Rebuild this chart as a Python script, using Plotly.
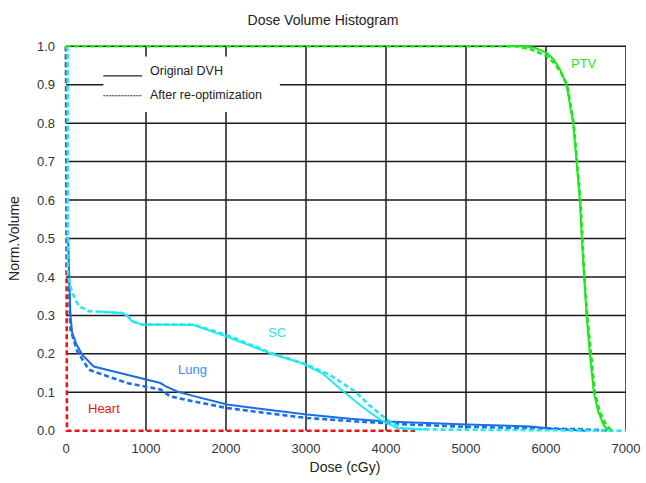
import plotly.graph_objects as go

# ---------------- data ----------------
ptv_orig_dose = [5500, 5712, 5850, 6008, 6100, 6174, 6257, 6340, 6382, 6423, 6448, 6473, 6507, 6548, 6598, 6652, 6720, 6773]
ptv_orig_vol = [1.0, 1.0, 0.997, 0.983, 0.965, 0.94, 0.9, 0.8, 0.7, 0.6, 0.5, 0.4, 0.3, 0.2, 0.1, 0.05, 0.015, 0.0]
ptv_reopt_dose = [0, 5633, 5800, 6008, 6110, 6190, 6265, 6345, 6388, 6430, 6455, 6480, 6515, 6558, 6610, 6670, 6750, 6819]
ptv_reopt_vol = [1.0, 1.0, 0.993, 0.975, 0.955, 0.93, 0.9, 0.8, 0.7, 0.6, 0.5, 0.4, 0.3, 0.2, 0.1, 0.05, 0.015, 0.0]

sc_orig_dose = [400, 500, 700, 760, 826, 951, 1200, 1592, 1991, 2594, 2928, 3200, 3468, 3700, 3926, 4135, 4500]
sc_orig_vol = [0.31, 0.309, 0.306, 0.300, 0.285, 0.276, 0.276, 0.275, 0.246, 0.198, 0.177, 0.150, 0.102, 0.063, 0.029, 0.007, 0.003]
sc_reopt_dose = [0, 20, 24, 50, 77, 160, 285, 500, 700, 760, 826, 951, 1200, 1592, 1991, 2594, 3011, 3300, 3614, 3800, 4010, 4213, 4600, 5500, 6500, 7000]
sc_reopt_vol = [1.0, 0.99, 0.41, 0.38, 0.36, 0.324, 0.311, 0.309, 0.306, 0.300, 0.285, 0.276, 0.276, 0.276, 0.25, 0.20, 0.172, 0.145, 0.102, 0.065, 0.029, 0.005, 0.003, 0.002, 0.001, 0.0]

lung_orig_dose = [0, 27, 40, 55, 77, 130, 202, 347, 597, 1014, 1180, 1250, 1388, 1600, 2013, 2500, 3011, 3552, 4010, 5009, 5799, 6087, 6300, 6500]
lung_orig_vol = [0.5, 0.5, 0.4, 0.3, 0.255, 0.225, 0.198, 0.167, 0.154, 0.133, 0.124, 0.115, 0.102, 0.09, 0.068, 0.055, 0.042, 0.031, 0.024, 0.016, 0.011, 0.005, 0.003, 0.0]
lung_reopt_dose = [0, 10, 20, 40, 56, 140, 285, 347, 764, 1180, 1250, 1305, 1600, 2013, 2500, 3011, 3636, 4200, 5000, 5500, 6000, 6400, 6800]
lung_reopt_vol = [1.0, 0.7, 0.45, 0.35, 0.263, 0.207, 0.159, 0.154, 0.124, 0.107, 0.098, 0.089, 0.076, 0.059, 0.046, 0.033, 0.024, 0.017, 0.010, 0.008, 0.006, 0.004, 0.0]

heart_reopt_dose = [0, 3, 8, 12, 4363]
heart_reopt_vol = [1.0, 0.65, 0.1, 0.0, 0.0]

x_ticks = [0, 1000, 2000, 3000, 4000, 5000, 6000, 7000]
y_ticks = [0.0, 0.1, 0.2, 0.3, 0.4, 0.5, 0.6, 0.7, 0.8, 0.9, 1.0]
y_tick_text = ["0.0", "0.1", "0.2", "0.3", "0.4", "0.5", "0.6", "0.7", "0.8", "0.9", "1.0"]

structure_labels = ["PTV", "SC", "Lung", "Heart"]
label_dose = [6480, 2640, 1580, 470]
label_vol = [0.955, 0.255, 0.16, 0.058]

# ---------------- styling ----------------
C_PTV = "#1ee61e"
C_SC = "#22e8f0"
C_LUNG = "#1a6ee8"
C_HEART = "#ee1414"
label_colors = [C_PTV, C_SC, "#3a8cf0", C_HEART]
DASH = "5px,3px"
FONT = "Liberation Sans, Arial, sans-serif"
GRID = "#1a1a1a"

fig = go.Figure()

def add(x, y, color, dashed):
    fig.add_trace(go.Scatter(
        x=x, y=y, mode="lines", showlegend=False, hoverinfo="skip",
        line=dict(color=color, width=2.6 if dashed else 2.0, dash=DASH if dashed else "solid"),
    ))

add(heart_reopt_dose, heart_reopt_vol, C_HEART, True)
add(lung_orig_dose, lung_orig_vol, C_LUNG, False)
add(lung_reopt_dose, lung_reopt_vol, C_LUNG, True)
add(sc_orig_dose, sc_orig_vol, C_SC, False)
add(sc_reopt_dose, sc_reopt_vol, C_SC, True)
add(ptv_orig_dose, ptv_orig_vol, C_PTV, False)
add(ptv_reopt_dose, ptv_reopt_vol, C_PTV, True)

# grid lines (none along the zero lines, as in the original)
for v in x_ticks[1:]:
    fig.add_shape(type="line", xref="x", yref="y", x0=v, x1=v, y0=y_ticks[0], y1=y_ticks[-1],
                  line=dict(color=GRID, width=1.5), layer="below")
for v in y_ticks[1:]:
    fig.add_shape(type="line", xref="x", yref="y", x0=x_ticks[0], x1=x_ticks[-1], y0=v, y1=v,
                  line=dict(color=GRID, width=1.5), layer="below")

for t, xd, yd, c in zip(structure_labels, label_dose, label_vol, label_colors):
    fig.add_annotation(x=xd, y=yd, text=t, showarrow=False,
                       font=dict(family=FONT, size=13, color=c))

# legend box (drawn by hand as in the original), in paper coords
fig.add_shape(type="rect", xref="paper", yref="paper", x0=0.070, x1=0.384, y0=0.825, y1=0.968,
              fillcolor="white", line=dict(width=0), layer="above")
fig.add_shape(type="line", xref="paper", yref="paper", x0=0.070, x1=0.139, y0=0.918, y1=0.918,
              line=dict(color="#222", width=1.2), layer="above")
fig.add_shape(type="line", xref="paper", yref="paper", x0=0.070, x1=0.139, y0=0.867, y1=0.867,
              line=dict(color="#222", width=1.2, dash="2px,1px"), layer="above")
fig.add_annotation(xref="paper", yref="paper", x=0.150, y=0.931, xanchor="left", yanchor="middle",
                   text="Original DVH", showarrow=False, font=dict(family=FONT, size=12.5, color="#222"))
fig.add_annotation(xref="paper", yref="paper", x=0.150, y=0.869, xanchor="left", yanchor="middle",
                   text="After re-optimization", showarrow=False, font=dict(family=FONT, size=12.5, color="#222"))

fig.update_layout(
    width=646, height=483,
    margin=dict(l=63.5, r=19.5, t=44, b=50, autoexpand=False),
    paper_bgcolor="white", plot_bgcolor="white",
    title=dict(text="Dose Volume Histogram", x=0.5, xref="container", y=1 - 20 / 483,
               yref="container", xanchor="center", yanchor="middle",
               font=dict(family=FONT, size=14, color="#222")),
    font=dict(family=FONT, color="#333"),
)
fig.update_xaxes(range=[-25, 7000], tickvals=x_ticks, showgrid=False,
                 zeroline=False, showline=False, ticks="", ticklabelstandoff=6,
                 tickfont=dict(family=FONT, size=13, color="#333"),
                 title=dict(text="Dose (cGy)", font=dict(family=FONT, size=14, color="#222"), standoff=7))
fig.update_yaxes(range=[-0.006, 1.006], tickvals=y_ticks, ticktext=y_tick_text, showgrid=False,
                 zeroline=False, showline=False, ticks="", ticklabelstandoff=8,
                 tickfont=dict(family=FONT, size=13, color="#333"),
                 title=dict(text="Norm.Volume", font=dict(family=FONT, size=14, color="#222"), standoff=14))

fig.write_html("out.html", config={"displayModeBar": False},
               post_script="document.body.style.margin='0';")
